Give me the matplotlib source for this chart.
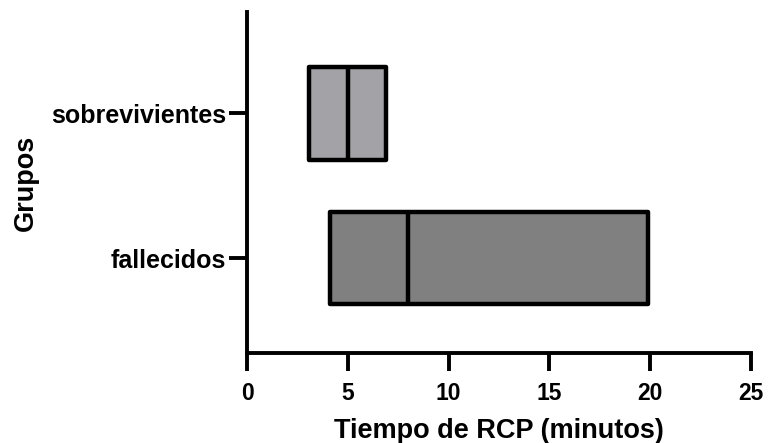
import matplotlib
matplotlib.use("Agg")
import matplotlib.pyplot as plt

groups = ["fallecidos", "sobrevivientes"]
q1 = [4.1, 3.1]
median = [8.0, 5.0]
q3 = [19.9, 6.9]
colors = ["#808080", "#a2a2a7"]
xticks = [0, 5, 10, 15, 20, 25]

plt.rcParams['font.family'] = ['Liberation Sans', 'DejaVu Sans']
plt.rcParams['font.weight'] = 'bold'

fig = plt.figure(figsize=(7.69, 4.43), dpi=100)
ax = fig.add_axes([247/769, 1-353/443, (751-247)/769, (353-12)/443])

h = 0.64
for i, g in enumerate(groups):
    ax.barh(i, q3[i]-q1[i], left=q1[i], height=h, color=colors[i],
            edgecolor="black", linewidth=3.2, joinstyle='round', zorder=2)
    ax.plot([median[i], median[i]], [i-h/2, i+h/2], color="black", lw=3.2, zorder=3,
            solid_capstyle='butt')

ax.set_xlim(0, 25)
ax.set_ylim(-0.655, 1.70)
ax.set_xticks(xticks)
ax.set_yticks(range(len(groups)))
ax.set_yticklabels(groups)
for s in ['top', 'right']:
    ax.spines[s].set_visible(False)
for s in ['left', 'bottom']:
    ax.spines[s].set_linewidth(2.8)
ax.tick_params(axis='both', width=2.8, length=13)
ax.tick_params(axis='x', labelsize=16.5, pad=8)
ax.tick_params(axis='y', labelsize=18, pad=2)
ax.set_xlabel("Tiempo de RCP (minutos)", fontsize=19.5, fontweight='bold', labelpad=9)
ax.set_ylabel("Grupos", fontsize=19.5, fontweight='bold', labelpad=9)

fig.savefig("out.png", dpi=100)
